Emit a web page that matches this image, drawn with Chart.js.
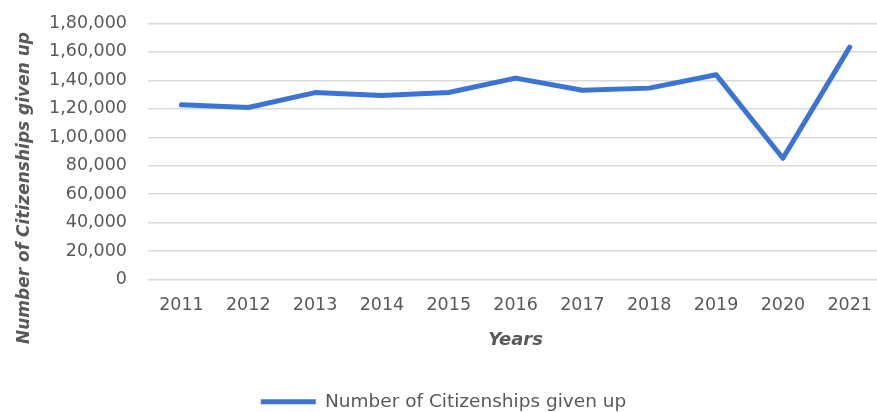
<!DOCTYPE html>
<html>
<head>
<meta charset="utf-8">
<script src="https://cdn.jsdelivr.net/npm/chart.js@4/dist/chart.umd.min.js"></script>
<style>
  html, body { margin: 0; padding: 0; background: #ffffff; overflow: hidden; }
  #wrap { width: 877px; height: 412px; overflow: hidden; position: relative; }
  #box { width: 887px; height: 420px; position: absolute; left: 0; top: -8px; }
</style>
</head>
<body>
<div id="wrap"><div id="box"><canvas id="c" width="887" height="420"></canvas></div></div>
<script>
// Citizenships given up per year
const years = ['2011', '2012', '2013', '2014', '2015', '2016', '2017', '2018', '2019', '2020', '2021'];
const citizenshipsGivenUp = [122819, 120923, 131405, 129328, 131489, 141603, 133049, 134561, 144017, 85256, 163370];
const seriesName = 'Number of Citizenships given up';
const xTitle = 'Years';
const yTitle = 'Number of Citizenships given up';
const yMin = 0;
const yMax = 180000;
const yStep = 20000;

const LINE_COLOR = '#3C74D6';
const TEXT_GRAY = '#595959';
const FONT = "'DejaVu Sans', 'Open Sans', sans-serif";

// Indian digit grouping: 1,80,000
function indianFormat(n) {
  const s = String(Math.round(n));
  if (s.length <= 3) return s;
  const last3 = s.slice(-3);
  let rest = s.slice(0, -3);
  const parts = [];
  while (rest.length > 2) { parts.unshift(rest.slice(-2)); rest = rest.slice(0, -2); }
  if (rest.length) parts.unshift(rest);
  return parts.join(',') + ',' + last3;
}

// Vertical axis title drawn centred on the full left column
const yTitlePlugin = {
  id: 'yTitle',
  afterDraw(chart) {
    const ctx = chart.ctx;
    ctx.save();
    ctx.translate(25, 196);
    ctx.rotate(-Math.PI / 2);
    ctx.font = "italic bold 17px " + FONT;
    ctx.fillStyle = TEXT_GRAY;
    ctx.textAlign = 'center';
    ctx.textBaseline = 'middle';
    ctx.fillText(yTitle, 0, 0);
    ctx.restore();
  }
};

new Chart(document.getElementById('c'), {
  type: 'line',
  data: {
    labels: years,
    datasets: [{
      label: seriesName,
      data: citizenshipsGivenUp,
      borderColor: LINE_COLOR,
      backgroundColor: LINE_COLOR,
      borderWidth: 5,
      pointRadius: 0,
      pointHoverRadius: 0,
      tension: 0,
      borderCapStyle: 'round',
      borderJoinStyle: 'round',
      fill: false
    }]
  },
  options: {
    responsive: false,
    animation: false,
    events: [],
    layout: { padding: { top: 0, right: 0, bottom: -9, left: 0 } },
    plugins: {
      tooltip: { enabled: false },
      title: { display: false },
      legend: {
        display: true,
        position: 'bottom',
        align: 'center',
        labels: {
          color: TEXT_GRAY,
          font: { family: FONT, size: 18.5 },
          boxWidth: 55,
          boxHeight: 5,
          padding: 2,
          generateLabels(chart) {
            const items = Chart.defaults.plugins.legend.labels.generateLabels(chart);
            items.forEach(it => { it.lineWidth = 0; it.fillStyle = LINE_COLOR; it.strokeStyle = LINE_COLOR; });
            return items;
          }
        }
      }
    },
    scales: {
      x: {
        offset: true,
        afterFit(scale) { scale.height = 111; },
        grid: { display: false, drawTicks: false },
        border: { display: false },
        ticks: { color: TEXT_GRAY, font: { family: FONT, size: 17.5 }, padding: 15, maxRotation: 0, autoSkip: false },
        title: {
          display: true,
          text: xTitle,
          color: TEXT_GRAY,
          font: { family: FONT, size: 18, style: 'italic', weight: 'bold' },
          padding: { top: 0, bottom: 39 }
        }
      },
      y: {
        min: yMin,
        max: yMax,
        afterFit(scale) { scale.width = 148; },
        grid: { color: '#D9D9D9', lineWidth: 1.5, drawTicks: false },
        border: { display: false },
        ticks: {
          stepSize: yStep,
          color: TEXT_GRAY,
          font: { family: FONT, size: 17.5 },
          padding: 21,
          callback: v => indianFormat(v)
        }
      }
    }
  },
  plugins: [yTitlePlugin]
});
</script>
</body>
</html>
